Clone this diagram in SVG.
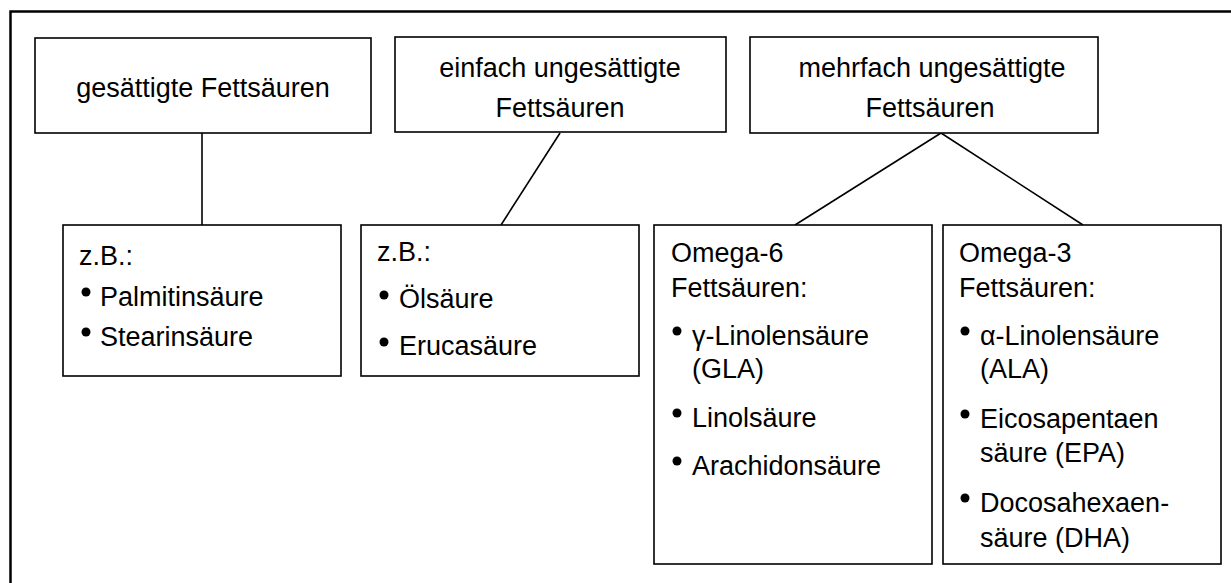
<svg xmlns="http://www.w3.org/2000/svg" width="1231" height="583" viewBox="0 0 1231 583">
<style>
.box{fill:#fff;stroke:#000;stroke-width:1.6}
.t{font-family:"Liberation Sans",Arial,sans-serif;font-size:27px;fill:#000}
.c{text-anchor:middle}
.con{stroke:#000;stroke-width:1.6;fill:none}
.b{fill:#000}
</style>
<rect width="1231" height="583" fill="#fff"/>
<path d="M10.5,583 V11.5 H1231" fill="none" stroke="#000" stroke-width="2.5"/>
<g id="connectors">
<line class="con" x1="202" y1="133" x2="202" y2="225"/>
<line class="con" x1="560" y1="133" x2="501" y2="225"/>
<line class="con" x1="941" y1="133" x2="795" y2="225"/>
<line class="con" x1="941" y1="133" x2="1083" y2="225"/>
</g>
<g id="gesaettigt">
<rect class="box" x="35" y="38" width="336" height="95"/>
<text class="t c" x="203" y="97">gesättigte Fettsäuren</text>
</g>
<g id="einfach">
<rect class="box" x="395" y="37" width="331" height="95"/>
<text class="t c" x="560" y="77">einfach ungesättigte</text>
<text class="t c" x="560" y="117">Fettsäuren</text>
</g>
<g id="mehrfach">
<rect class="box" x="750" y="37" width="348" height="96"/>
<text class="t c" x="932" y="77">mehrfach ungesättigte</text>
<text class="t c" x="930" y="117">Fettsäuren</text>
</g>
<g id="bsp-gesaettigt">
<rect class="box" x="63" y="225" width="278" height="151"/>
<text class="t" x="79" y="265">z.B.:</text>
<circle class="b" cx="86" cy="292" r="4.5"/>
<text class="t" x="100" y="306">Palmitinsäure</text>
<circle class="b" cx="86" cy="332" r="4.5"/>
<text class="t" x="100" y="346">Stearinsäure</text>
</g>
<g id="bsp-einfach">
<rect class="box" x="361" y="225" width="278" height="151"/>
<text class="t" x="377" y="261">z.B.:</text>
<circle class="b" cx="384" cy="295" r="4.5"/>
<text class="t" x="399" y="308">Ölsäure</text>
<circle class="b" cx="384" cy="342" r="4.5"/>
<text class="t" x="399" y="355">Erucasäure</text>
</g>
<g id="omega6">
<rect class="box" x="654" y="225" width="278" height="339"/>
<text class="t" x="671" y="262">Omega-6</text>
<text class="t" x="671" y="297">Fettsäuren:</text>
<circle class="b" cx="677" cy="331" r="4.5"/>
<text class="t" x="692" y="345">γ-Linolensäure</text>
<text class="t" x="692" y="378">(GLA)</text>
<circle class="b" cx="677" cy="413" r="4.5"/>
<text class="t" x="692" y="427">Linolsäure</text>
<circle class="b" cx="677" cy="461" r="4.5"/>
<text class="t" x="692" y="475">Arachidonsäure</text>
</g>
<g id="omega3">
<rect class="box" x="943" y="225" width="278" height="339"/>
<text class="t" x="959" y="262">Omega-3</text>
<text class="t" x="959" y="297">Fettsäuren:</text>
<circle class="b" cx="965" cy="331" r="4.5"/>
<text class="t" x="980" y="345">α-Linolensäure</text>
<text class="t" x="980" y="378">(ALA)</text>
<circle class="b" cx="965" cy="414" r="4.5"/>
<text class="t" x="980" y="428">Eicosapentaen</text>
<text class="t" x="980" y="462">säure (EPA)</text>
<circle class="b" cx="965" cy="498" r="4.5"/>
<text class="t" x="980" y="512">Docosahexaen-</text>
<text class="t" x="980" y="547">säure (DHA)</text>
</g>
</svg>
